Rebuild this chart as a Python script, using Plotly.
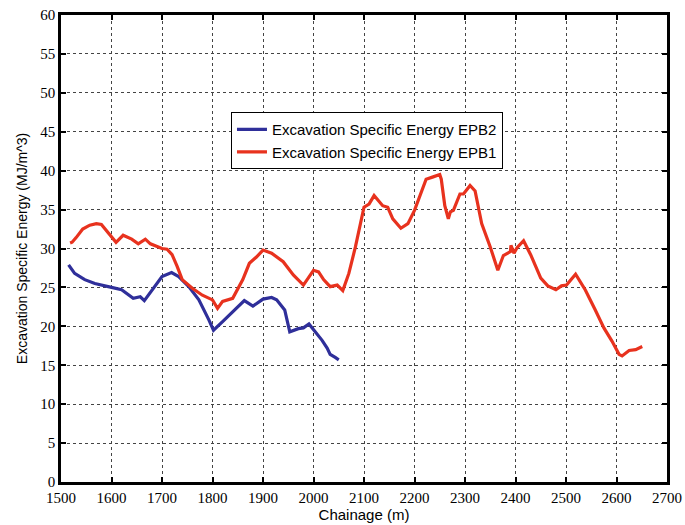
import plotly.graph_objects as go

# EPB2 (blue)
epb2_chainage = [1515, 1527, 1547, 1567, 1600, 1620, 1643, 1657, 1665, 1680, 1700, 1719, 1733,
                 1753, 1773, 1793, 1802, 1820, 1840, 1863, 1880, 1900, 1917, 1927, 1943, 1953,
                 1970, 1980, 1991, 1997, 2007, 2017, 2027, 2033, 2043, 2050]
epb2_energy = [27.9, 26.8, 26.0, 25.5, 25.0, 24.7, 23.6, 23.8, 23.3, 24.7, 26.4, 26.9, 26.4,
               25.1, 23.4, 20.8, 19.5, 20.6, 21.9, 23.3, 22.6, 23.5, 23.7, 23.4, 22.1, 19.3,
               19.7, 19.8, 20.3, 19.8, 19.1, 18.2, 17.2, 16.4, 16.0, 15.7]

# EPB1 (red)
epb1_chainage = [1518, 1522, 1530, 1543, 1557, 1570, 1580, 1593, 1609, 1623, 1640, 1653, 1667,
                 1677, 1690, 1700, 1710, 1720, 1730, 1740, 1760, 1780, 1800, 1810, 1820, 1840,
                 1860, 1873, 1887, 1900, 1917, 1940, 1960, 1980, 2000, 2010, 2020, 2033, 2047,
                 2058, 2070, 2083, 2100, 2110, 2120, 2137, 2147, 2157, 2173, 2187, 2200, 2210,
                 2223, 2237, 2250, 2253, 2260, 2267, 2271, 2277, 2290, 2297, 2310, 2320, 2333,
                 2350, 2365, 2376, 2390, 2391, 2397, 2403, 2416, 2430, 2450, 2464, 2480, 2491,
                 2501, 2519, 2538, 2558, 2575, 2591, 2605, 2611, 2625, 2638, 2651]
epb1_energy = [30.7, 30.8, 31.4, 32.5, 33.0, 33.2, 33.1, 32.1, 30.8, 31.7, 31.2, 30.6, 31.2,
               30.6, 30.2, 30.0, 29.9, 29.2, 27.7, 26.0, 24.9, 24.0, 23.4, 22.3, 23.2, 23.6,
               26.0, 28.1, 28.9, 29.8, 29.4, 28.3, 26.6, 25.3, 27.2, 27.0, 26.0, 25.1, 25.3,
               24.6, 26.8, 30.2, 35.3, 35.7, 36.8, 35.5, 35.3, 33.8, 32.6, 33.2, 34.9, 36.6,
               38.9, 39.2, 39.5, 38.9, 35.5, 33.8, 34.7, 34.9, 37.0, 37.0, 38.1, 37.4, 33.2,
               30.2, 27.2, 29.1, 29.6, 30.4, 29.4, 30.1, 31.0, 29.2, 26.2, 25.2, 24.7, 25.2,
               25.3, 26.7, 24.7, 22.1, 19.8, 18.1, 16.4, 16.2, 16.9, 17.0, 17.4]

x_ticks = [1500, 1600, 1700, 1800, 1900, 2000, 2100, 2200, 2300, 2400, 2500, 2600, 2700]
y_ticks = [0, 5, 10, 15, 20, 25, 30, 35, 40, 45, 50, 55, 60]

fig = go.Figure()
fig.add_trace(go.Scatter(x=epb2_chainage, y=epb2_energy, mode="lines",
                         name="Excavation Specific Energy EPB2",
                         line=dict(color="#2f2f9a", width=3.2)))
fig.add_trace(go.Scatter(x=epb1_chainage, y=epb1_energy, mode="lines",
                         name="Excavation Specific Energy EPB1",
                         line=dict(color="#e8321e", width=3.2)))

axis_common = dict(
    showline=True, linecolor="black", linewidth=2.5, mirror="allticks",
    ticks="inside", ticklen=5, tickwidth=2, tickcolor="black",
    showgrid=True, gridcolor="#444444", gridwidth=1, griddash="dot",
    zeroline=False, automargin=False,
    tickfont=dict(family="Liberation Serif", size=15, color="black"),
)

fig.update_xaxes(range=[1500, 2700], tickvals=x_ticks,
                 title=dict(text="Chainage (m)", standoff=5,
                            font=dict(family="Liberation Sans", size=15, color="black")),
                 **axis_common)
fig.update_yaxes(range=[0, 60], tickvals=y_ticks,
                 title=dict(text="Excavation Specific Energy (MJ/m^3)", standoff=10,
                            font=dict(family="Liberation Sans", size=14, color="black")),
                 **axis_common)

fig.update_layout(
    width=685, height=525,
    margin=dict(l=61, r=18, t=15, b=43),
    paper_bgcolor="white", plot_bgcolor="white",
    legend=dict(x=0.2805, y=0.792, xanchor="left", yanchor="top",
                bgcolor="white", bordercolor="black", borderwidth=1,
                font=dict(family="Liberation Sans", size=15, color="black"),
                tracegroupgap=0, itemwidth=30),
    showlegend=True,
)

fig.write_html("out.html", config={"displayModeBar": False},
               post_script="document.body.style.margin='0';document.body.style.overflow='hidden';")
